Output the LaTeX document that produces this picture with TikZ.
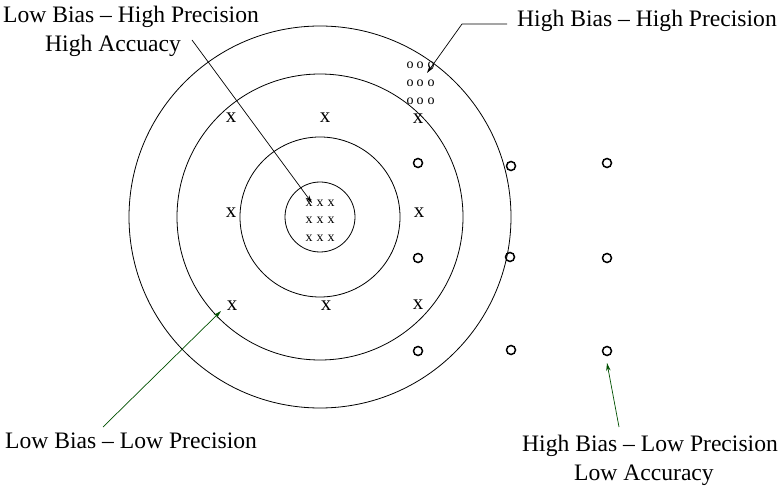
\documentclass[tikz,border=0pt]{standalone}
\usepackage{fontspec}
\setmainfont{Liberation Serif}
\usetikzlibrary{arrows.meta}
\definecolor{arrowgreen}{RGB}{0,80,0}
\begin{document}
\begin{tikzpicture}[x=1pt,y=-1pt,
  ring/.style={draw, line width=0.8pt},
  lbl/.style={anchor=base west, inner sep=0pt, font=\fontsize{23.6}{28}\selectfont},
  bigx/.style={inner sep=0pt, font=\fontsize{21}{24}\selectfont},
  smallmark/.style={inner sep=0pt, font=\fontsize{14}{16}\selectfont},
  dot/.style={circle, draw, line width=1.5pt, minimum size=9pt, inner sep=0pt},
  arr/.style={-{Stealth[length=8pt,width=4.5pt]}, line width=0.7pt}
]
\useasboundingbox (0,0) rectangle (784,486);
% rings
\draw[ring] (320,217) circle[radius=191pt];
\draw[ring] (320,217) circle[radius=143pt];
\draw[ring] (320,217) circle[radius=80pt];
\draw[ring] (320,217) circle[radius=35pt];
% inner x cluster
\foreach \r/\yy in {1/203,2/220,3/238}{
  \foreach \c/\xx in {1/309,2/320,3/331}{
    \node[smallmark] (ix\r\c) at (\xx,\yy) {x};
  }
}
% small o cluster
\foreach \r/\yy in {1/65,2/83,3/101}{
  \foreach \c/\xx in {1/410,2/420,3/431}{
    \node[smallmark] (so\r\c) at (\xx,\yy) {o};
  }
}
% big x marks
\node[bigx] (bx11) at (231,118) {x};
\node[bigx] (bx12) at (325,118) {x};
\node[bigx] (bx13) at (418,119) {x};
\node[bigx] (bx21) at (231,213) {x};
\node[bigx] (bx23) at (419,213) {x};
\node[bigx] (bx31) at (232,306) {x};
\node[bigx] (bx32) at (326,306) {x};
\node[bigx] (bx33) at (418,305) {x};
% big o marks
\foreach \r/\yy in {1/163,2/258,3/351}{
  \node[dot] (d\r1) at (418,\yy) {};
  \node[dot] (d\r3) at (607,\yy) {};
}
\node[dot] (d12) at (511,166) {};
\node[dot] (d22) at (510,257) {};
\node[dot] (d32) at (511,350) {};
% labels
\node[lbl] (lbhp) at (3,23) {Low Bias -- High Precision};
\node[lbl] (lbhp2) at (45,52) {High Accuacy};
\node[lbl] (hbhp) at (517,27) {High Bias -- High Precision};
\node[lbl] (lblp) at (5,448) {Low Bias -- Low Precision};
\node[lbl] (hblp) at (522,451) {High Bias -- Low Precision};
\node[lbl] (hblp2) at (574,480) {Low Accuracy};
% connectors
\coordinate (s1) at (192,40);
\coordinate (t1) at (312,203);
\draw[arr] (s1) -- (t1);
\coordinate (s2) at (507,24);
\coordinate (b2) at (462,24);
\coordinate (t2) at (427,73);
\draw[arr] (s2) -- (b2) -- (t2);
\coordinate (s3) at (103,427);
\coordinate (t3) at (221,311);
\draw[arr, arrowgreen] (s3) -- (t3);
\coordinate (s4) at (619,427);
\coordinate (t4) at (607,363);
\draw[arr, arrowgreen] (s4) -- (t4);
\end{tikzpicture}
\end{document}
